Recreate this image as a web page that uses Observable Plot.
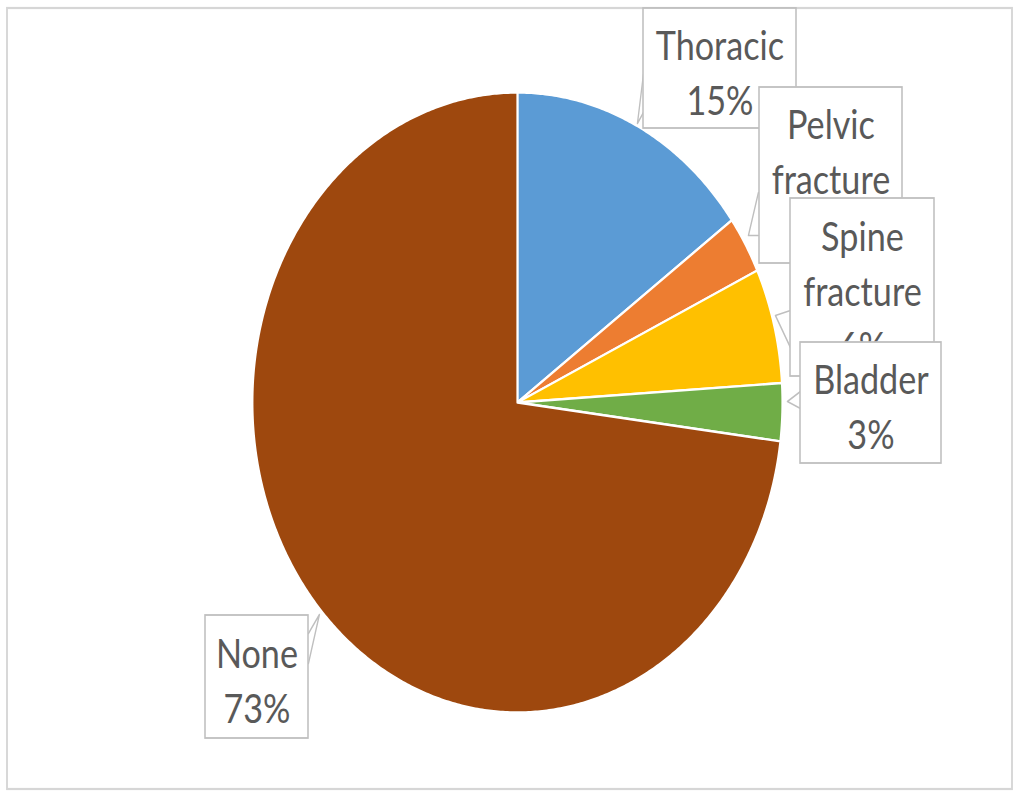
<!DOCTYPE html>
<html>
<head>
<meta charset="utf-8">
<script src="https://cdn.jsdelivr.net/npm/d3@7"></script>
<script src="https://cdn.jsdelivr.net/npm/@observablehq/plot@0.6"></script>
<style>
  html, body { margin: 0; padding: 0; background: #fff; overflow: hidden; }
  #chart { width: 1017px; height: 792px; overflow: hidden; }
  #chart svg { transform-origin: 0 0; }
</style>
</head>
<body>
<div id="chart"></div>
<script>
// Injury categories and their share of patients (%)
const categories = ["Thoracic", "Pelvic fracture", "Spine fracture", "Bladder", "None"];
const shares = [15, 3, 6, 3, 73];
const colors = ["#5b9bd5", "#ed7d31", "#ffc000", "#70ad47", "#9e480e"];
// Wording used inside each callout (line breaks as printed)
const labelNames = ["Thoracic", "Pelvic\nfracture", "Spine\nfracture", "Bladder", "None"];

// Page layout (pixels of the final, horizontally squeezed page)
const pageW = 1017, pageH = 792;
const squeeze = 0.8546;               // the whole figure is drawn wide, then squeezed
const pie = {cx: 517, cy: 402, rx: 265, ry: 310};
const boxes = [                       // [left, right, top, bottom]
  [643, 796, 8, 128],
  [759, 902, 87, 263],
  [790, 934, 198, 376],
  [800, 941, 342, 463],
  [205, 308, 615, 738]
];
const wedges = [                      // callout pointers: box edge -> tip -> box edge
  [[643, 74], [637, 123], [643, 112]],
  [[758, 192], [748, 235], [758, 235]],
  [[790, 310], [775, 315], [790, 347]],
  [[800, 391], [787, 401], [800, 408]],
  [[308, 633], [319, 614], [308, 663]]
];

// Slice polygons from cumulative shares, clockwise from 12 o'clock
const total = d3.sum(shares);
let acc = 0;
const slices = shares.map((v, i) => {
  const a0 = acc / total * 2 * Math.PI;
  acc += v;
  const a1 = acc / total * 2 * Math.PI;
  const n = Math.max(2, Math.ceil((a1 - a0) / (Math.PI / 360)));
  const pts = [{x: pie.cx, y: pie.cy}];
  for (let k = 0; k <= n; ++k) {
    const a = a0 + (a1 - a0) * k / n;
    pts.push({x: pie.cx + pie.rx * Math.sin(a), y: pie.cy - pie.ry * Math.cos(a)});
  }
  pts.push({x: pie.cx, y: pie.cy});
  return {name: categories[i], color: colors[i], pts};
});

const labels = categories.map((c, i) => ({
  name: c,
  text: `${labelNames[i]}\n${shares[i]}%`,
  x1: boxes[i][0], x2: boxes[i][1], y1: boxes[i][2], y2: boxes[i][3],
  cx: (boxes[i][0] + boxes[i][1]) / 2,
  cy: (boxes[i][2] + boxes[i][3]) / 2,
  wedge: wedges[i].map(([x, y]) => ({x, y}))
}));

const fontSize = 40;
const textColor = "#595959";
const boxStroke = "#bfbfbf";

const marks = [
  // outer chart frame
  Plot.rect([{x1: 7, x2: 1012, y1: 8, y2: 789}], {
    x1: "x1", x2: "x2", y1: "y1", y2: "y2",
    fill: "white", stroke: "#d6d6d6", strokeWidth: 2.2
  }),
  // pie slices
  ...slices.map(s => Plot.line(s.pts, {
    x: "x", y: "y", fill: s.color, stroke: "white", strokeWidth: 2.4,
    strokeLinejoin: "round"
  })),
  // callouts: pointer, box, text — later callouts sit on top of earlier ones
  ...labels.flatMap(l => [
    Plot.line(l.wedge, {x: "x", y: "y", fill: "white", stroke: boxStroke, strokeWidth: 1.6}),
    Plot.rect([l], {x1: "x1", x2: "x2", y1: "y1", y2: "y2", fill: "white", stroke: boxStroke, strokeWidth: 1.8}),
    Plot.text([l], {
      x: "cx", y: "cy", dy: 1, text: "text",
      fontSize, lineHeight: 55 / fontSize, fill: textColor,
      fontFamily: "Lato, 'Open Sans', sans-serif", textAnchor: "middle"
    })
  ])
];

const svgW = Math.round(pageW / squeeze);
const chart = Plot.plot({
  width: svgW,
  height: pageH,
  margin: 0,
  x: {domain: [0, pageW], range: [0, svgW], axis: null},
  y: {domain: [0, pageH], range: [0, pageH], axis: null},
  marks
});
chart.style.maxWidth = "none";
chart.style.transform = `scaleX(${pageW / svgW})`;
document.getElementById("chart").append(chart);
</script>
</body>
</html>
